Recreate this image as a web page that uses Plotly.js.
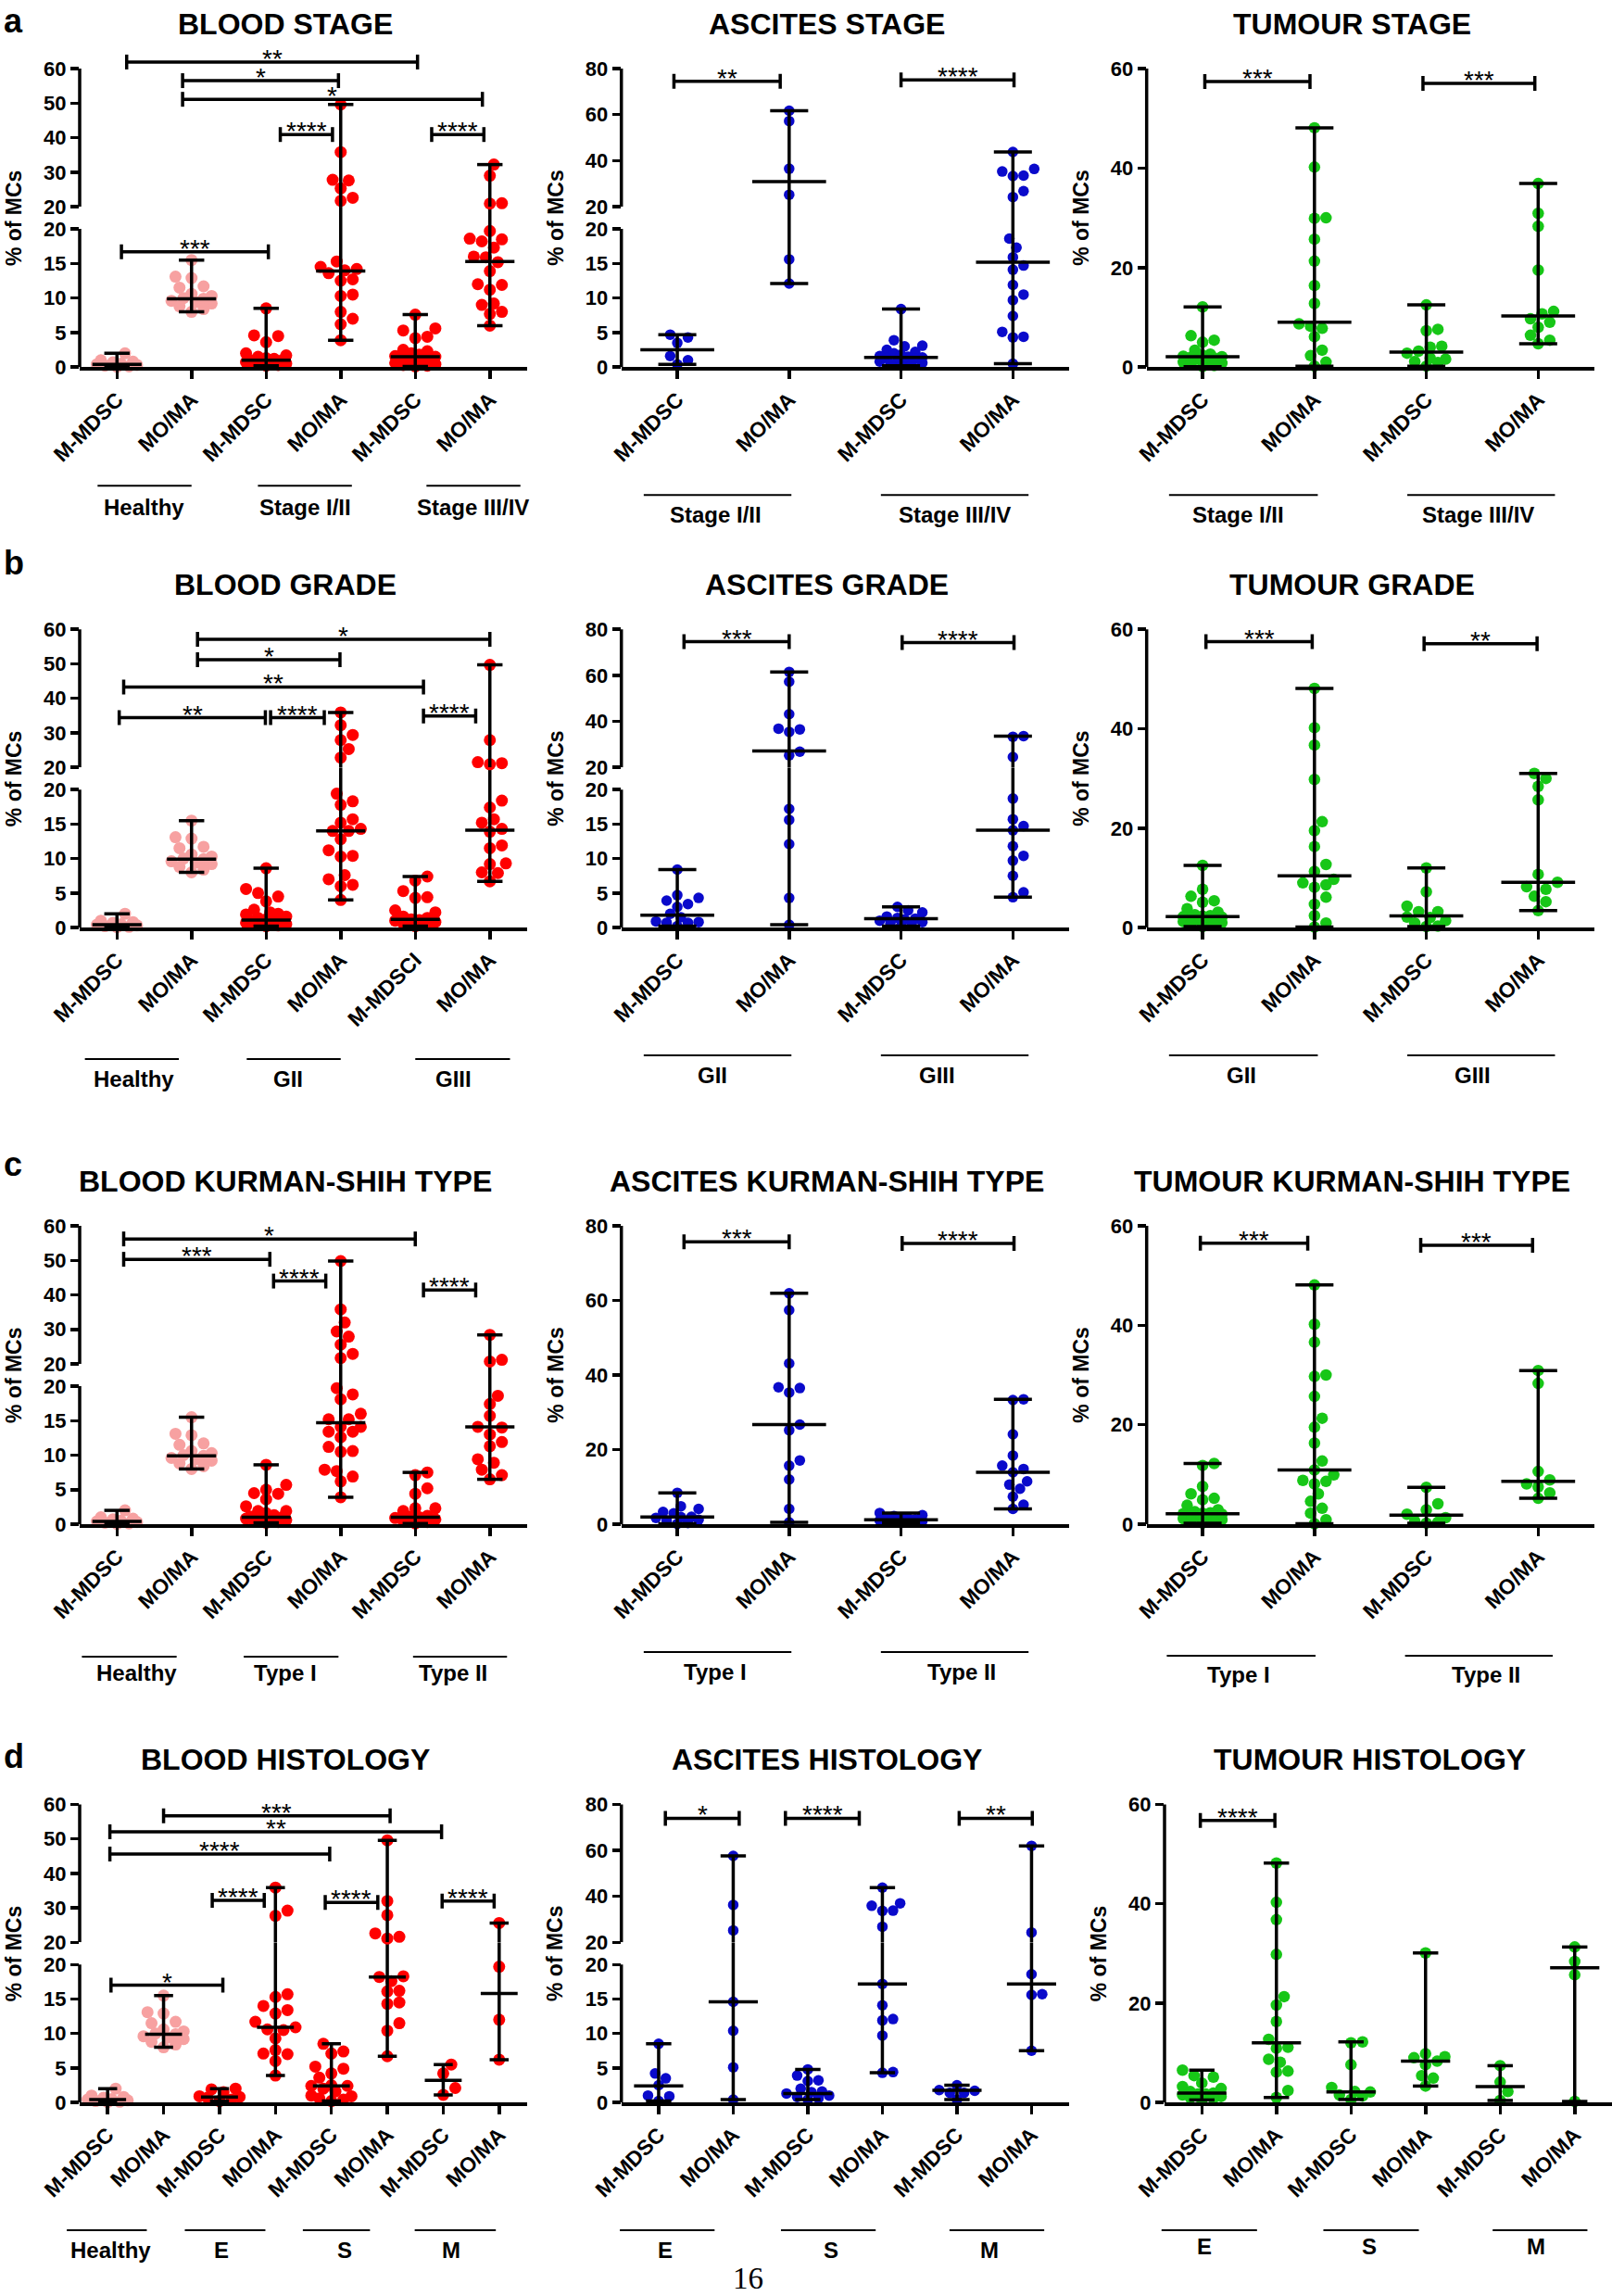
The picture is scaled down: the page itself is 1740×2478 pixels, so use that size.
<!DOCTYPE html>
<html><head><meta charset="utf-8">
<script src="https://cdn.plot.ly/plotly-3.0.1.min.js"></script>
<style>body{margin:0;background:#fff}#chart{width:1740px;height:2478px}</style>
</head><body><div id="chart"></div>
<script>
// ================= DATA =================
const cats6 = ['M-MDSC','MO/MA','M-MDSC','MO/MA','M-MDSC','MO/MA'];
const cats6b = ['M-MDSC','MO/MA','M-MDSC','MO/MA','M-MDSCI','MO/MA'];
const cats4 = ['M-MDSC','MO/MA','M-MDSC','MO/MA'];
const cats8 = ['M-MDSC','MO/MA','M-MDSC','MO/MA','M-MDSC','MO/MA','M-MDSC','MO/MA'];

const healthyMDSC = [2.0, 1.0, 0.8, 0.7, 0.5, 0.4, 0.3, 0.2, 0.1, 0.05];
const healthyMOMA = [15.5, 13.1, 12.9, 11.7, 11.5, 10.6, 10.3, 10.0, 9.9, 9.6, 9.4, 9.2, 8.8, 8.4, 8.0];

// a) STAGE
const bloodStageValues = [healthyMDSC, healthyMOMA,
  [8.5, 4.6, 4.5, 3.6, 2.0, 1.7, 1.5, 1.3, 1.2, 1.0, 1.0, 0.9, 0.8, 0.7, 0.5, 0.4, 0.3, 0.2],
  [49.6, 35.8, 27.8, 27.6, 25.3, 22.6, 21.7, 15.3, 14.5, 14.2, 14.0, 13.6, 12.7, 12.5, 10.5, 10.3, 8.0, 7.0, 6.2, 3.9],
  [7.6, 5.6, 5.3, 4.4, 4.2, 2.5, 2.3, 2.0, 1.8, 1.6, 1.5, 1.4, 1.2, 1.0, 0.8, 0.6, 0.4, 0.3, 0.2, 0.1],
  [32.2, 29.0, 21.0, 20.9, 19.7, 18.6, 18.5, 18.2, 17.3, 16.0, 15.9, 15.2, 13.9, 12.0, 11.9, 11.2, 9.2, 9.0, 8.0, 7.7, 6.0]];
const bloodStageMedians = [0.4, 9.9, 1.0, 13.9, 1.5, 15.3];

const ascitesStageValues = [
  [4.7, 4.3, 3.5, 1.6, 1.0, 0.4],
  [61.7, 57.2, 36.5, 25.2, 15.6, 12.1],
  [8.4, 3.9, 3.1, 3.0, 2.5, 2.2, 2.0, 1.8, 1.6, 1.5, 1.4, 1.3, 1.2, 1.0, 0.9, 0.8, 0.6, 0.5, 0.4, 0.2],
  [43.8, 36.4, 35.3, 33.5, 33.3, 26.8, 24.2, 18.6, 17.3, 15.9, 14.7, 14.1, 11.9, 10.5, 9.7, 7.4, 5.1, 4.4, 4.3, 0.5]];
const ascitesStageMedians = [2.5, 30.9, 1.4, 15.2];

const tumourStageValues = [
  [12.1, 6.3, 5.4, 5.0, 3.4, 2.6, 2.4, 2.2, 2.1, 2.0, 1.8, 1.6, 1.3, 1.0, 0.8, 0.5, 0.3, 0.1],
  [48.1, 40.2, 30.0, 29.9, 25.7, 21.3, 16.4, 12.8, 8.7, 8.2, 7.8, 6.1, 3.4, 2.3, 1.0, 0.2],
  [12.5, 7.6, 7.3, 4.2, 4.0, 3.2, 2.8, 1.8, 1.6, 1.1, 0.9, 0.2],
  [36.9, 30.9, 28.3, 19.5, 11.2, 10.7, 9.7, 9.0, 8.0, 6.4, 5.4, 4.7]];
const tumourStageMedians = [2.1, 9.0, 3.0, 10.3];

// b) GRADE
const bloodGradeValues = [healthyMDSC, healthyMOMA,
  [8.6, 5.6, 5.0, 4.5, 3.8, 2.6, 2.2, 2.0, 1.9, 1.6, 1.4, 1.2, 1.1, 1.0, 1.0, 0.9, 0.8, 0.7, 0.5, 0.4, 0.3, 0.2],
  [35.9, 32.2, 29.4, 27.9, 25.3, 22.8, 19.4, 18.3, 17.8, 15.7, 15.2, 14.3, 14.0, 14.0, 12.8, 11.2, 10.4, 10.3, 7.6, 7.0, 6.2, 6.0, 4.0],
  [7.4, 6.8, 5.3, 4.4, 4.3, 2.5, 2.2, 1.6, 1.4, 1.2, 1.1, 1.0, 0.8, 0.6, 0.4, 0.2],
  [49.7, 27.9, 21.5, 21.2, 20.9, 18.4, 17.4, 15.7, 15.2, 14.3, 13.9, 11.9, 11.5, 9.3, 9.2, 8.0, 7.9, 6.7]];
const bloodGradeMedians = [0.4, 9.9, 1.1, 14.0, 1.2, 14.1];

const ascitesGradeValues = [
  [8.4, 4.7, 4.3, 3.9, 3.4, 3.0, 2.0, 1.5, 0.9, 0.8, 0.7, 0.7, 0.2],
  [61.5, 57.2, 43.1, 36.8, 36.5, 35.4, 26.8, 25.2, 17.2, 15.6, 12.1, 4.3, 0.4],
  [3.0, 2.5, 2.2, 1.6, 1.4, 1.3, 1.2, 1.0, 0.8, 0.6, 0.4, 0.2],
  [33.6, 33.3, 24.5, 18.7, 15.7, 14.7, 14.1, 11.8, 10.4, 9.7, 7.5, 5.1, 4.4]];
const ascitesGradeMedians = [1.8, 27.1, 1.3, 14.1];

const tumourGradeValues = [
  [12.5, 7.7, 6.3, 5.4, 5.1, 3.8, 3.1, 2.6, 2.4, 2.3, 2.2, 2.1, 2.0, 1.8, 1.6, 1.4, 1.2, 1.0, 0.8, 0.5, 0.2],
  [48.1, 40.2, 36.7, 29.8, 21.3, 19.5, 16.3, 12.7, 11.3, 9.7, 9.0, 8.6, 8.1, 6.1, 4.7, 2.4, 0.9, 0.1],
  [12.0, 7.2, 4.3, 3.2, 3.2, 2.1, 2.0, 1.4, 0.9, 0.3, 0.2],
  [31.0, 30.0, 28.4, 25.7, 10.7, 9.1, 8.2, 7.7, 6.3, 5.2, 3.4]];
const tumourGradeMedians = [2.2, 10.4, 2.35, 9.1];

// c) KURMAN-SHIH TYPE
const bloodTypeValues = [healthyMDSC, healthyMOMA,
  [8.6, 5.7, 5.0, 4.5, 4.4, 3.6, 2.6, 1.9, 1.9, 1.6, 1.3, 1.1, 1.0, 1.0, 0.9, 0.8, 0.6, 0.5, 0.3, 0.2],
  [49.8, 35.8, 32.0, 29.4, 27.9, 25.6, 22.9, 21.7, 19.7, 18.8, 18.1, 16.0, 15.2, 15.2, 14.1, 14.1, 13.4, 13.4, 12.6, 11.2, 10.6, 10.5, 7.9, 7.7, 6.9, 6.2, 3.9],
  [7.5, 7.1, 5.2, 4.4, 2.3, 2.3, 1.9, 1.2, 1.1, 1.0, 0.9, 0.7, 0.5, 0.3, 0.1],
  [28.4, 21.2, 20.7, 18.6, 17.4, 15.7, 14.1, 14.0, 13.0, 11.9, 11.3, 9.4, 8.9, 7.9, 7.1, 6.5]];
const bloodTypeMedians = [0.4, 9.9, 1.0, 14.7, 1.0, 14.1];

const ascitesTypeValues = [
  [8.4, 4.8, 4.1, 3.3, 2.9, 2.0, 1.9, 1.7, 1.2, 1.0, 0.3, 0.1],
  [61.9, 57.4, 43.1, 36.7, 36.5, 35.3, 26.7, 25.2, 17.1, 15.7, 12.0, 4.1, 0.5],
  [3.0, 2.4, 2.2, 1.8, 1.6, 1.4, 1.3, 1.2, 1.1, 1.0, 0.9, 0.7, 0.5, 0.3],
  [33.5, 33.3, 24.1, 18.4, 15.7, 14.8, 13.9, 11.5, 10.6, 9.5, 7.4, 5.2, 4.1]];
const ascitesTypeMedians = [1.9, 26.7, 1.2, 13.9];

const tumourTypeValues = [
  [12.2, 11.8, 7.6, 6.1, 5.2, 4.9, 3.8, 2.9, 2.5, 2.3, 2.2, 2.1, 2.0, 1.9, 1.7, 1.5, 1.3, 1.1, 0.9, 0.7, 0.5, 0.2],
  [48.1, 40.2, 36.6, 30.0, 29.7, 25.7, 21.3, 19.5, 16.3, 12.7, 10.9, 9.9, 8.8, 8.6, 8.1, 6.1, 4.6, 3.2, 2.2, 0.9, 0.1],
  [7.4, 4.1, 2.9, 2.0, 1.3, 0.6, 0.4, 0.2],
  [30.9, 28.3, 10.6, 8.9, 8.1, 7.5, 6.3, 5.2]];
const tumourTypeMedians = [2.1, 10.9, 1.8, 8.6];

// d) HISTOLOGY
const bloodHistoValues = [healthyMDSC, healthyMOMA,
  [2.0, 1.9, 1.5, 0.9, 0.8, 0.7, 0.4, 0.2],
  [35.9, 29.2, 27.7, 15.7, 15.3, 14.0, 13.4, 12.9, 11.7, 10.9, 10.6, 10.5, 9.3, 7.6, 7.1, 7.0, 6.0, 3.9],
  [8.5, 7.4, 7.1, 5.2, 4.9, 4.2, 3.6, 2.5, 2.4, 2.4, 2.0, 1.6, 1.0, 0.9, 0.6, 0.4, 0.2],
  [49.6, 32.0, 27.9, 22.6, 21.6, 21.1, 18.3, 18.2, 17.6, 16.2, 16.1, 14.5, 14.3, 11.5, 10.4, 6.7],
  [5.5, 4.2, 2.1, 1.1],
  [25.6, 19.7, 12.0, 6.2]];
const bloodHistoMedians = [0.4, 9.9, 0.8, 10.9, 2.4, 18.2, 3.2, 15.8];

const ascitesHistoValues = [
  [8.5, 4.2, 3.5, 2.5, 1.0, 0.9, 0.2],
  [57.6, 36.3, 25.2, 14.6, 10.4, 5.1, 0.4],
  [4.8, 3.9, 3.2, 3.1, 2.0, 1.6, 1.5, 1.3, 1.0, 0.8, 0.6, 0.4],
  [43.8, 37.0, 35.9, 33.8, 33.7, 26.8, 17.2, 14.1, 12.1, 11.9, 9.7, 4.4, 4.3],
  [2.5, 1.8, 1.7, 1.4, 1.4, 0.4],
  [62.0, 24.3, 18.6, 15.7, 15.6, 7.5]];
const ascitesHistoMedians = [2.4, 14.6, 1.3, 17.2, 1.75, 17.2];

const tumourHistoValues = [
  [6.5, 5.4, 5.1, 3.9, 3.2, 2.8, 2.2, 1.9, 1.7, 1.7, 1.5, 1.2, 1.0, 0.8, 0.5],
  [48.2, 40.3, 36.8, 29.8, 21.3, 19.6, 16.3, 12.7, 11.1, 10.9, 8.7, 8.1, 6.3, 6.1, 2.4, 1.0],
  [12.2, 12.0, 7.6, 3.0, 2.2, 2.1, 1.5, 1.3, 0.6],
  [30.1, 9.8, 9.2, 9.0, 8.3, 7.6, 5.4, 4.9, 3.3],
  [7.4, 4.1, 2.2, 0.4],
  [31.3, 28.4, 25.7, 0.2]];
const tumourHistoMedians = [1.9, 12.0, 2.1, 8.3, 3.2, 27.1];

// ================= LAYOUT / STYLE =================
const W = 1740, H = 2478;
const FONT = 'Liberation Sans, Arial, Helvetica, sans-serif';
const RED = '#FF0000', PINK = '#F7A1A1', BLUE = '#0A0ACB', GREEN = '#17C617';
const colLeft = [86, 670.7, 1237.7];
const PLOTW = 483;
const rowTop = [74, 679.2, 1323, 1947.5];
const rowBot = [396.2, 1001.1, 1645, 2269.1];
const GAP = 24, EXT = 22, LW = 3.5;

const panels = [
 {title:'BLOOD STAGE', row:0, col:0, kind:'blood', broken:true, top:60, cats:cats6, values:bloodStageValues, medians:bloodStageMedians,
  gl:128, gt:151, groups:[['Healthy',-0.26,1.0,0.36],['Stage I/II',1.89,3.15,2.53],['Stage III/IV',4.15,5.41,4.77]],
  sig:[[0.13,4.03,61.9,'**'],[0.88,2.97,56.5,'*'],[0.88,4.90,51.1,'*'],[2.19,2.89,40.9,'****'],[4.22,4.92,40.9,'****'],[0.06,2.03,16.7,'***']]},
 {title:'ASCITES STAGE', row:0, col:1, kind:'ascites', broken:true, top:80, cats:cats4, values:ascitesStageValues, medians:ascitesStageMedians,
  groups:[['Stage I/II',-0.30,1.02,0.34],['Stage III/IV',1.82,3.14,2.48]],
  sig:[[-0.03,0.92,74.5,'**'],[2.0,3.01,75.1,'****']]},
 {title:'TUMOUR STAGE', row:0, col:2, kind:'tumour', broken:false, top:60, cats:cats4, values:tumourStageValues, medians:tumourStageMedians,
  groups:[['Stage I/II',-0.30,1.03,0.32],['Stage III/IV',1.83,3.15,2.46]],
  sig:[[0.02,0.96,57.4,'***'],[1.97,2.97,57.0,'***']]},
 {title:'BLOOD GRADE', row:1, col:0, kind:'blood', broken:true, top:60, cats:cats6b, values:bloodGradeValues, medians:bloodGradeMedians,
  gl:142, gt:163, groups:[['Healthy',-0.43,0.83,0.23],['GII',1.74,3.0,2.30],['GIII',4.0,5.27,4.51]],
  sig:[[1.08,5.0,57.1,'*'],[1.08,2.99,51.2,'*'],[0.09,4.11,43.3,'**'],[0.03,1.99,34.4,'**'],[2.06,2.78,34.4,'****'],[4.11,4.81,34.9,'****']]},
 {title:'ASCITES GRADE', row:1, col:1, kind:'ascites', broken:true, top:80, cats:cats4, values:ascitesGradeValues, medians:ascitesGradeMedians,
  groups:[['GII',-0.30,1.02,0.31],['GIII',1.82,3.14,2.32]],
  sig:[[0.06,1.0,74.6,'***'],[2.01,3.01,74.2,'****']]},
 {title:'TUMOUR GRADE', row:1, col:2, kind:'tumour', broken:false, top:60, cats:cats4, values:tumourGradeValues, medians:tumourGradeMedians,
  groups:[['GII',-0.30,1.03,0.35],['GIII',1.83,3.15,2.41]],
  sig:[[0.03,0.98,57.5,'***'],[1.98,2.99,57.1,'**']]},
 {title:'BLOOD KURMAN-SHIH TYPE', row:2, col:0, kind:'blood', broken:true, top:60, cats:cats6, values:bloodTypeValues, medians:bloodTypeMedians,
  gl:143, gt:160, groups:[['Healthy',-0.47,0.80,0.26],['Type I',1.70,2.97,2.26],['Type II',3.97,5.23,4.51]],
  sig:[[0.09,4.0,56.2,'*'],[0.09,2.05,50.3,'***'],[2.10,2.80,44.0,'****'],[4.11,4.81,41.4,'****']]},
 {title:'ASCITES KURMAN-SHIH TYPE', row:2, col:1, kind:'ascites', broken:false, top:80, cats:cats4, values:ascitesTypeValues, medians:ascitesTypeMedians,
  groups:[['Type I',-0.30,1.02,0.34],['Type II',1.82,3.14,2.54]],
  sig:[[0.06,1.0,75.7,'***'],[2.01,3.01,75.3,'****']]},
 {title:'TUMOUR KURMAN-SHIH TYPE', row:2, col:2, kind:'tumour', broken:false, top:60, cats:cats4, values:tumourTypeValues, medians:tumourTypeMedians,
  gl:142, gt:163, groups:[['Type I',-0.32,1.01,0.32],['Type II',1.81,3.13,2.53]],
  sig:[[-0.02,0.94,56.5,'***'],[1.95,2.95,56.1,'***']]},
 {title:'BLOOD HISTOLOGY', row:3, col:0, kind:'blood', broken:true, top:60, cats:cats8, values:bloodHistoValues, medians:bloodHistoMedians,
  groups:[['Healthy',-0.73,0.70,0.05],['E',1.38,2.82,2.04],['S',3.49,4.69,4.23],['M',5.49,6.94,6.14]],
  sig:[[1.0,5.05,56.7,'***'],[0.04,5.97,52.1,'**'],[0.04,3.97,45.6,'****'],[1.87,2.80,32.2,'****'],[3.89,4.83,31.6,'****'],[5.98,6.91,32.0,'****'],[0.06,2.06,17.0,'*']]},
 {title:'ASCITES HISTOLOGY', row:3, col:1, kind:'ascites', broken:true, top:80, cats:cats6, values:ascitesHistoValues, medians:ascitesHistoMedians,
  groups:[['E',-0.52,0.75,0.09],['S',1.64,2.91,2.31],['M',3.90,5.17,4.44]],
  sig:[[0.09,1.08,74.0,'*'],[1.70,2.69,74.0,'****'],[4.03,5.01,74.0,'**']]},
 {title:'TUMOUR HISTOLOGY', row:3, col:2, left:1257, kind:'tumour', broken:false, top:60, cats:cats6, values:tumourHistoValues, medians:tumourHistoMedians,
  gt:155, groups:[['E',-0.54,0.74,0.03],['S',1.63,2.91,2.24],['M',3.90,5.17,4.48]],
  sig:[[-0.02,0.98,56.8,'****']]}
];

const px2x = p => p / W;
const px2y = p => 1 - p / H;
const sfx = n => n === 1 ? '' : String(n);
const bold = (size) => ({family: FONT, size: size, color: '#000', weight: 700});

const data = [], shapes = [], annotations = [];
const layout = {
  width: W, height: H, margin: {l:0, r:0, t:0, b:0},
  paper_bgcolor: '#fff', plot_bgcolor: 'rgba(0,0,0,0)',
  showlegend: false, hovermode: false,
  font: {family: FONT, color: '#000'},
  shapes: shapes, annotations: annotations
};

function swarm(vals, pxOf, diam, maxOff) {
  const idx = vals.map((v, i) => i).sort((a, b) => vals[a] - vals[b]);
  const step = diam / 3;
  const cands = [0];
  for (let k = 1; k * step <= maxOff + 0.01; k++) cands.push(k * step, -k * step);
  const placed = [], off = new Array(vals.length).fill(0);
  for (const i of idx) {
    const y = pxOf(vals[i]);
    let best = 0, bestD = -1;
    for (const c of cands) {
      let md = Infinity;
      for (const p of placed) { const d = Math.hypot(c - p[0], y - p[1]); if (d < md) md = d; }
      if (md >= diam * 0.92) { best = c; bestD = md; break; }
      if (md > bestD) { bestD = md; best = c; }
    }
    off[i] = best; placed.push([best, y]);
  }
  return off;
}

panels.forEach((p, k) => {
  const xs = sfx(k + 1), yls = sfx(2 * k + 1), yus = sfx(2 * k + 2);
  const left = p.left !== undefined ? p.left : colLeft[p.col];
  const right = left + PLOTW;
  const top = rowTop[p.row], bot = rowBot[p.row];
  const n = p.cats.length;
  const catW = PLOTW / n;
  const yTickFont = bold(22);
  const xTickFont = bold(23);

  let sL, sU, s, lowerMax, seg;
  if (p.broken) {
    seg = (bot - top - GAP) / 2;
    const u20 = top + seg, l20 = bot - seg;
    sL = seg / 20; sU = seg / (p.top - 20);
    lowerMax = 20 * (bot - u20) / (bot - l20);
    layout['yaxis' + yls] = {domain: [px2y(bot), px2y(u20)], range: [0, lowerMax], anchor: 'x' + xs,
      tickvals: [0, 5, 10, 15, 20], ticks: 'outside', ticklen: 9, tickwidth: LW, tickcolor: '#000',
      showline: false, showgrid: false, zeroline: false, tickfont: yTickFont, fixedrange: true};
    const upTicks = p.top === 60 ? [20, 30, 40, 50, 60] : [20, 40, 60, 80];
    layout['yaxis' + yus] = {domain: [px2y(u20), px2y(top - EXT)], range: [20, p.top + EXT / sU], anchor: 'x' + xs,
      tickvals: upTicks, ticks: 'outside', ticklen: 9, tickwidth: LW, tickcolor: '#000',
      showline: false, showgrid: false, zeroline: false, tickfont: yTickFont, fixedrange: true};
    shapes.push({type: 'line', xref: 'x' + xs + ' domain', x0: 0, x1: 0, yref: 'y' + yls, y0: 0, y1: 20, line: {color: '#000', width: LW}});
    shapes.push({type: 'line', xref: 'x' + xs + ' domain', x0: 0, x1: 0, yref: 'y' + yus, y0: 20, y1: p.top, line: {color: '#000', width: LW}});
  } else {
    s = (bot - top) / p.top;
    const tv = p.top === 60 ? [0, 20, 40, 60] : [0, 20, 40, 60, 80];
    layout['yaxis' + yls] = {domain: [px2y(bot), px2y(top - EXT)], range: [0, p.top + EXT / s], anchor: 'x' + xs,
      tickvals: tv, ticks: 'outside', ticklen: 9, tickwidth: LW, tickcolor: '#000',
      showline: false, showgrid: false, zeroline: false, tickfont: yTickFont, fixedrange: true};
    shapes.push({type: 'line', xref: 'x' + xs + ' domain', x0: 0, x1: 0, yref: 'y' + yls, y0: 0, y1: p.top, line: {color: '#000', width: LW}});
  }
  layout['xaxis' + xs] = {domain: [px2x(left), px2x(right)], range: [-0.5, n - 0.5], anchor: 'y' + yls,
    tickvals: p.cats.map((c, i) => i), ticktext: p.cats, tickangle: -45,
    ticks: 'outside', ticklen: 9, tickwidth: LW, tickcolor: '#000',
    showline: true, linewidth: LW, linecolor: '#000', showgrid: false, zeroline: false,
    tickfont: xTickFont, fixedrange: true};

  const axisOf = v => (p.broken && v > 20) ? 'U' : 'L';
  const yref = a => a === 'U' ? 'y' + yus : 'y' + yls;
  const scaleOf = a => p.broken ? (a === 'U' ? sU : sL) : s;
  const pxOf = v => !p.broken ? v * s : (v <= 20 ? v * sL : 20 * sL + GAP + (v - 20) * sU);

  const colorOf = i => p.kind === 'blood' ? (i < 2 ? PINK : RED) : (p.kind === 'ascites' ? BLUE : GREEN);
  const msize = p.kind === 'blood' ? 13 : (p.kind === 'ascites' ? 11.5 : 12.5);

  // dots
  const dots = {L: {x: [], y: [], c: []}, U: {x: [], y: [], c: []}};
  p.values.forEach((vals, i) => {
    const off = swarm(vals, pxOf, msize, 24);
    vals.forEach((v, j) => {
      const a = axisOf(v);
      dots[a].x.push(i + off[j] / catW); dots[a].y.push(v); dots[a].c.push(colorOf(i));
    });
  });
  ['L', 'U'].forEach(a => {
    if (!dots[a].x.length) return;
    data.push({type: 'scatter', mode: 'markers', x: dots[a].x, y: dots[a].y, xaxis: 'x' + xs, yaxis: yref(a),
      cliponaxis: false, marker: {size: msize, color: dots[a].c, line: {width: 0}}, hoverinfo: 'skip'});
  });

  // median + range bars
  const bars = {L: {x: [], y: []}, U: {x: [], y: []}};
  const segm = (a, x0, y0, x1, y1) => { bars[a].x.push(x0, x1, null); bars[a].y.push(y0, y1, null); };
  p.values.forEach((vals, i) => {
    const lo = Math.min(...vals), hi = Math.max(...vals), md = p.medians[i];
    if (p.broken && hi > 20 && lo <= 20) { segm('L', i, lo, i, lowerMax); segm('U', i, 20, i, hi); }
    else segm(axisOf(hi), i, lo, i, hi);
    segm(axisOf(hi), i - 0.17, hi, i + 0.17, hi);
    segm(axisOf(lo), i - 0.17, lo, i + 0.17, lo);
    segm(axisOf(md), i - 0.33, md, i + 0.33, md);
  });

  // significance brackets
  const br = {L: {x: [], y: []}, U: {x: [], y: []}};
  p.sig.forEach(([x0, x1, y, lab]) => {
    const a = axisOf(y), h = 8 / scaleOf(a);
    br[a].x.push(x0, x0, null, x0, x1, null, x1, x1, null);
    br[a].y.push(y - h, y + h, null, y, y, null, y - h, y + h, null);
    annotations.push({xref: 'x' + xs, yref: yref(a), x: (x0 + x1) / 2, y: y, text: lab, showarrow: false,
      xanchor: 'center', yanchor: 'bottom', yshift: -14, font: {family: FONT, size: 28, color: '#000'}});
  });
  ['L', 'U'].forEach(a => {
    const xx = bars[a].x.concat(br[a].x), yy = bars[a].y.concat(br[a].y);
    if (!xx.length) return;
    data.push({type: 'scatter', mode: 'lines', x: xx, y: yy, xaxis: 'x' + xs, yaxis: yref(a),
      line: {color: '#000', width: LW}, hoverinfo: 'skip', connectgaps: false});
  });

  // group labels under the axis
  const gl = p.gl !== undefined ? p.gl : 138, gt = p.gt !== undefined ? p.gt : 159;
  p.groups.forEach(([lab, g0, g1, tx]) => {
    shapes.push({type: 'line', xref: 'x' + xs + ' domain', x0: (g0 + 0.5) / n, x1: (g1 + 0.5) / n,
      yref: 'paper', y0: px2y(bot + gl), y1: px2y(bot + gl), line: {color: '#000', width: 2}});
    annotations.push({xref: 'x' + xs, yref: 'paper', x: tx, y: px2y(bot + gt), text: lab, showarrow: false,
      xanchor: 'center', yanchor: 'middle', font: bold(24)});
  });

  // titles
  annotations.push({xref: 'paper', yref: 'paper', x: px2x((left + right) / 2 - 20), y: px2y(top - 48), text: p.title,
    showarrow: false, xanchor: 'center', yanchor: 'middle', font: bold(32)});
  annotations.push({xref: 'paper', yref: 'paper', x: px2x(left - 71), y: px2y((top + bot) / 2), text: '% of MCs',
    textangle: -90, showarrow: false, xanchor: 'center', yanchor: 'middle', font: bold(23)});
});

// panel letters
[['a', 23], ['b', 607], ['c', 1256], ['d', 1895]].forEach(([l, y]) => {
  annotations.push({xref: 'paper', yref: 'paper', x: px2x(2), y: px2y(y), text: l, showarrow: false,
    xanchor: 'left', yanchor: 'middle', font: bold(36)});
});
// page number
annotations.push({xref: 'paper', yref: 'paper', x: px2x(807), y: px2y(2459), text: '16', showarrow: false,
  xanchor: 'center', yanchor: 'middle', font: {family: 'Liberation Serif, Times New Roman, serif', size: 33, color: '#000'}});

Plotly.newPlot('chart', data, layout, {staticPlot: true, displayModeBar: false});
</script>
</body></html>
